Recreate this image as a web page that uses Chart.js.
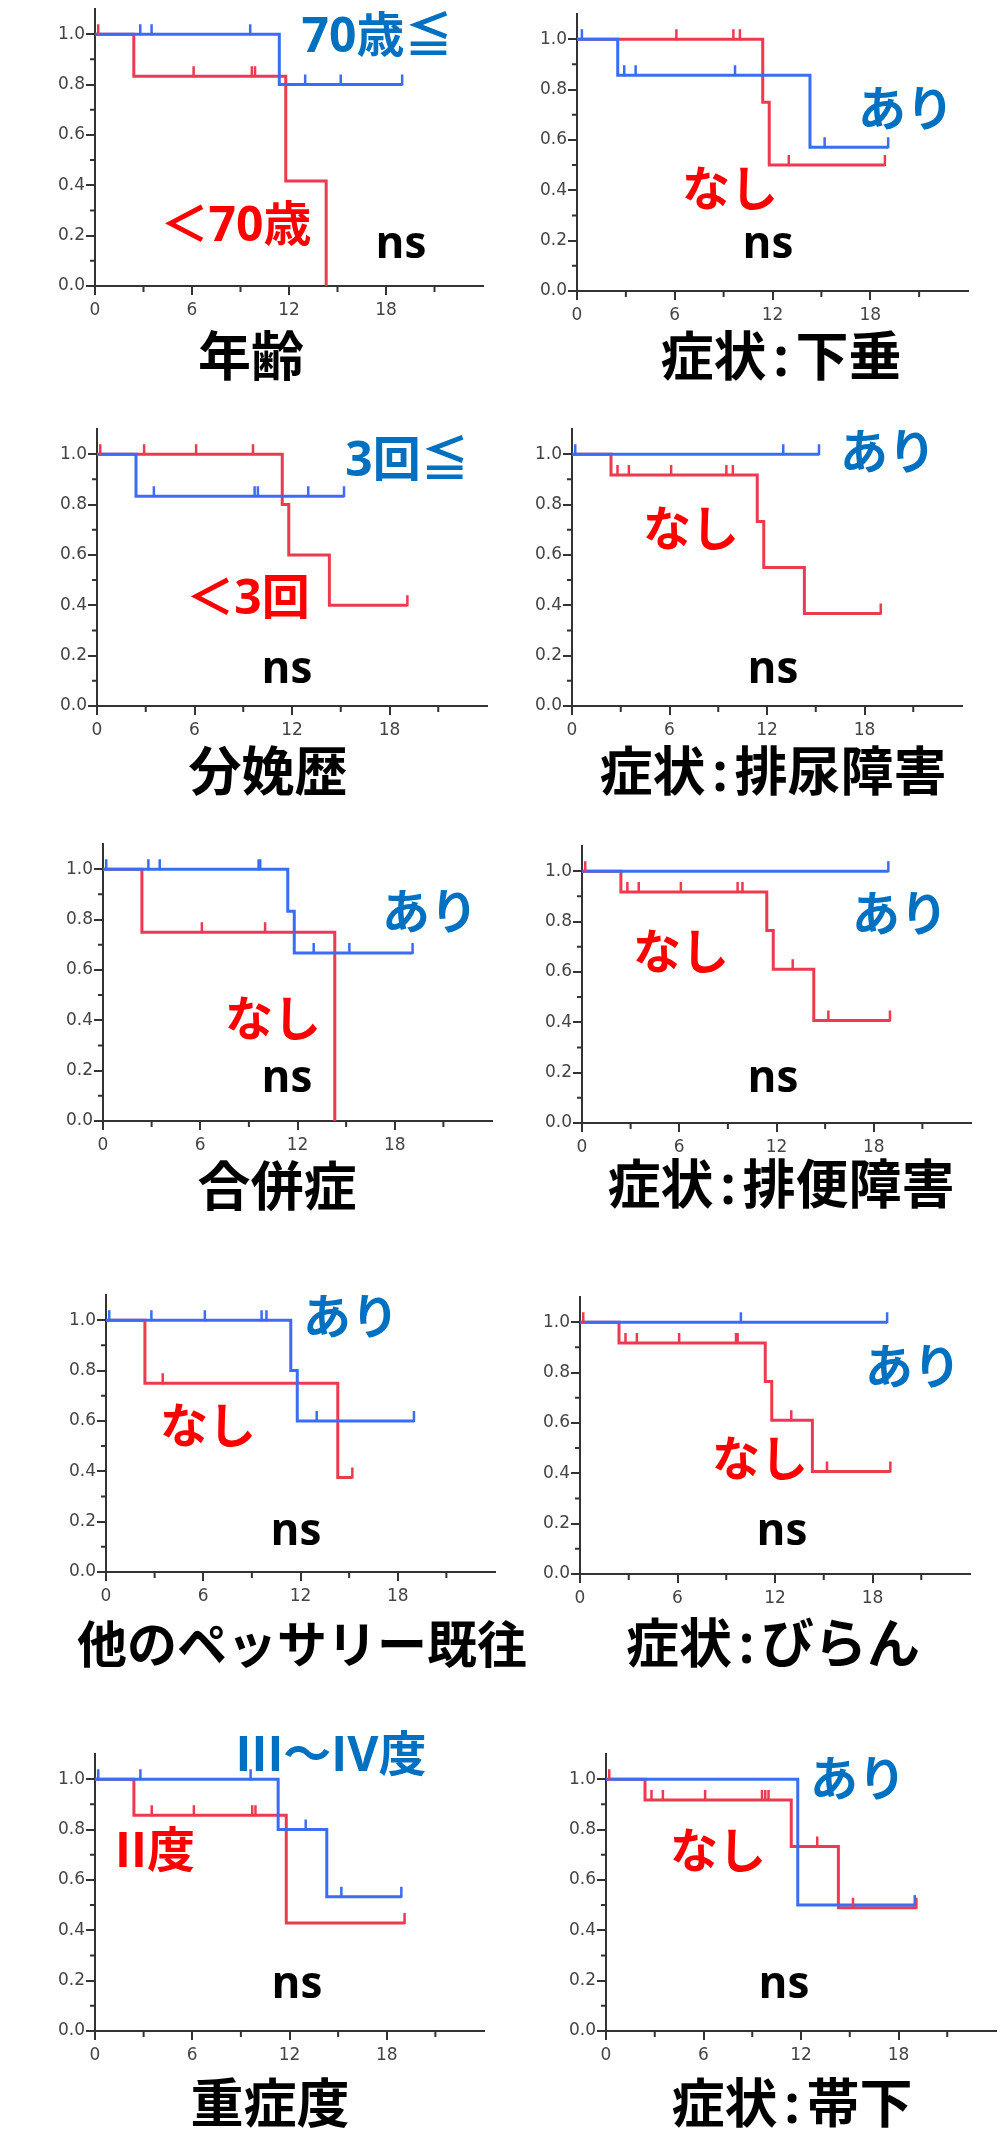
<!DOCTYPE html>
<html lang="ja">
<head>
<meta charset="utf-8">
<title>Kaplan-Meier curves by factor</title>
<script src="https://cdn.jsdelivr.net/npm/chart.js@4.4.1/dist/chart.umd.min.js"></script>
<style>
  html, body { margin: 0; padding: 0; background: #fff; }
  #page { position: relative; width: 1006px; height: 2132px; overflow: hidden; }
  #page canvas { position: absolute; }
  .txt {
    position: absolute;
    white-space: nowrap;
    font-weight: 700;
    line-height: 1;
    font-family: 'Open Sans', 'Noto Sans CJK JP', sans-serif;
    transform: translateX(-50%);
  }
  .colon { margin: 0 7px; }
</style>
</head>
<body>
<div id="page"></div>
<script>
// ────────────────────────────────────────────────
// Data (time in months, survival fraction)
// T = step times, S = survival from that time on, C = censor marks
// ────────────────────────────────────────────────
const titles = ['年齢', '症状:下垂', '分娩歴', '症状:排尿障害', '合併症',
  '症状:排便障害', '他のペッサリー既往', '症状:びらん', '重症度', '症状:帯下'];
const blueNames = ['70歳≦', 'あり', '3回≦', 'あり', 'あり', 'あり', 'あり', 'あり', 'III〜IV度', 'あり'];
const redNames = ['＜70歳', 'なし', '＜3回', 'なし', 'なし', 'なし', 'なし', 'なし', 'II度', 'なし'];
const pLabels = ['ns', 'ns', 'ns', 'ns', 'ns', 'ns', 'ns', 'ns', 'ns', 'ns'];

const xMinor = [3, 9, 15, 21];
const yMinor = [0.1, 0.3, 0.5, 0.7, 0.9];

// 年齢
const p1bT = [0, 11.4, 19.0];
const p1bS = [1, 0.8, 0.8];
const p1bC = [2.8, 3.5, 9.6, 13.0, 15.2, 19.0];
const p1rT = [0, 2.4, 11.8, 14.3];
const p1rS = [1, 0.833, 0.417, 0];
const p1rC = [0.2, 6.1, 9.7, 9.9];

// 症状:下垂
const p2bT = [0, 2.5, 14.3, 19.1];
const p2bS = [1, 0.857, 0.571, 0.571];
const p2bC = [0.3, 2.9, 3.6, 9.7, 15.2, 19.1];
const p2rT = [0, 11.4, 11.8, 18.9];
const p2rS = [1, 0.75, 0.5, 0.5];
const p2rC = [6.1, 9.6, 10.0, 13.0, 18.9];

// 分娩歴
const p3bT = [0, 2.4, 15.2];
const p3bS = [1, 0.833, 0.833];
const p3bC = [3.5, 9.7, 9.9, 13.0, 15.2];
const p3rT = [0, 11.4, 11.8, 14.3, 19.1];
const p3rS = [1, 0.8, 0.6, 0.4, 0.4];
const p3rC = [0.2, 2.9, 6.1, 9.6, 19.1];

// 症状:排尿障害
const p4bT = [0, 15.2];
const p4bS = [1, 1];
const p4bC = [0.2, 13.0, 15.2];
const p4rT = [0, 2.4, 11.4, 11.8, 14.3, 19.0];
const p4rS = [1, 0.917, 0.733, 0.55, 0.367, 0.367];
const p4rC = [2.8, 3.5, 6.1, 9.5, 9.9, 19.0];

// 合併症
const p5bT = [0, 11.4, 11.8, 19.1];
const p5bS = [1, 0.833, 0.667, 0.667];
const p5bC = [0.2, 2.8, 3.5, 9.6, 9.7, 13.0, 15.2, 19.1];
const p5rT = [0, 2.4, 14.3];
const p5rS = [1, 0.75, 0];
const p5rC = [6.1, 10.0];

// 症状:排便障害
const p6bT = [0, 18.9];
const p6bS = [1, 1];
const p6bC = [18.9];
const p6rT = [0, 2.4, 11.4, 11.8, 14.3, 19.0];
const p6rS = [1, 0.917, 0.764, 0.611, 0.407, 0.407];
const p6rC = [0.2, 2.8, 3.5, 6.1, 9.6, 9.9, 13.0, 15.2, 19.0];

// 他のペッサリー既往
const p7bT = [0, 11.4, 11.8, 19.0];
const p7bS = [1, 0.8, 0.6, 0.6];
const p7bC = [0.2, 2.8, 6.1, 9.6, 9.9, 13.0, 19.0];
const p7rT = [0, 2.4, 14.3, 15.2];
const p7rS = [1, 0.75, 0.375, 0.375];
const p7rC = [3.5, 15.2];

// 症状:びらん
const p8bT = [0, 18.9];
const p8bS = [1, 1];
const p8bC = [9.9, 18.9];
const p8rT = [0, 2.4, 11.4, 11.8, 14.3, 19.1];
const p8rS = [1, 0.917, 0.764, 0.611, 0.407, 0.407];
const p8rC = [0.2, 2.8, 3.5, 6.1, 9.6, 9.7, 13.0, 15.2, 19.1];

// 重症度
const p9bT = [0, 11.3, 14.3, 18.9];
const p9bS = [1, 0.8, 0.533, 0.533];
const p9bC = [0.2, 2.8, 9.6, 13.0, 15.2, 18.9];
const p9rT = [0, 2.4, 11.8, 19.1];
const p9rS = [1, 0.857, 0.429, 0.429];
const p9rC = [3.5, 6.1, 9.7, 9.9, 19.1];

// 症状:帯下
const p10bT = [0, 11.8, 19.0];
const p10bS = [1, 0.5, 0.5];
const p10bC = [19.0];
const p10rT = [0, 2.4, 11.4, 14.3, 19.1];
const p10rS = [1, 0.917, 0.733, 0.489, 0.489];
const p10rC = [0.2, 2.8, 3.5, 6.1, 9.6, 9.8, 10.0, 13.0, 15.2, 19.1];

const curves = [
  [p1bT, p1bS, p1bC, p1rT, p1rS, p1rC],
  [p2bT, p2bS, p2bC, p2rT, p2rS, p2rC],
  [p3bT, p3bS, p3bC, p3rT, p3rS, p3rC],
  [p4bT, p4bS, p4bC, p4rT, p4rS, p4rC],
  [p5bT, p5bS, p5bC, p5rT, p5rS, p5rC],
  [p6bT, p6bS, p6bC, p6rT, p6rS, p6rC],
  [p7bT, p7bS, p7bC, p7rT, p7rS, p7rC],
  [p8bT, p8bS, p8bC, p8rT, p8rS, p8rC],
  [p9bT, p9bS, p9bC, p9rT, p9rS, p9rC],
  [p10bT, p10bS, p10bC, p10rT, p10rS, p10rC]
];

// ────────────────────────────────────────────────
// Layout (page pixels): plot left/right/bottom, text centre x + baseline
// ────────────────────────────────────────────────
const PLOT_H = 277;
const panels = [
  { L: 95,  R: 483, B: 286,  blue: [377, 53],   red: [236, 242],  ns: [401, 258],  title: [251, 376] },
  { L: 577, R: 968, B: 291,  blue: [906, 127],  red: [730, 207],  ns: [768, 258],  title: [781, 376] },
  { L: 97,  R: 487, B: 706,  blue: [407, 477],  red: [248, 615],  ns: [287, 683],  title: [268, 791] },
  { L: 572, R: 962, B: 706,  blue: [888, 470],  red: [691, 547],  ns: [773, 683],  title: [773, 791] },
  { L: 103, R: 492, B: 1121, blue: [430, 930],  red: [273, 1037], ns: [287, 1092], title: [277, 1206] },
  { L: 582, R: 971, B: 1123, blue: [900, 932],  red: [681, 970],  ns: [773, 1092], title: [781, 1204] },
  { L: 106, R: 495, B: 1572, blue: [351, 1335], red: [208, 1444], ns: [296, 1545], title: [302, 1663], titleSize: 50 },
  { L: 580, R: 970, B: 1574, blue: [913, 1385], red: [760, 1477], ns: [782, 1545], title: [773, 1663] },
  { L: 95,  R: 484, B: 2031, blue: [331, 1772], red: [155, 1868], ns: [297, 1998], title: [270, 2123] },
  { L: 606, R: 996, B: 2031, blue: [858, 1797], red: [718, 1869], ns: [784, 1998], title: [792, 2123] }
];

const BLUE_LINE = '#3b6cf4';
const RED_LINE = '#ee3a4e';
const BLUE_TEXT = '#0070c0';
const RED_TEXT = '#ff0000';
const AXIS = '#333333';
const PAD_L = 60, PAD_T = 12, PAD_R = 14, PAD_B = 36;

// ────────────────────────────────────────────────
// Helpers
// ────────────────────────────────────────────────
function toPoints(T, S) {
  return T.map((t, i) => ({ x: t, y: S[i] }));
}

function survivalAt(T, S, t) {
  let s = S[0];
  for (let i = 0; i < T.length; i++) {
    if (T[i] <= t) s = S[i];
  }
  return s;
}

// small upward marks for censored cases
const censorMarks = {
  id: 'censorMarks',
  afterDatasetsDraw(chart) {
    const { ctx, scales: { x, y } } = chart;
    const sets = chart.data.datasets.slice().reverse();
    sets.forEach(ds => {
      ctx.save();
      ctx.strokeStyle = ds.borderColor;
      ctx.lineWidth = 2.5;
      ctx.beginPath();
      ds.censor.forEach(t => {
        const px = x.getPixelForValue(t);
        const py = y.getPixelForValue(survivalAt(ds.kmT, ds.kmS, t));
        ctx.moveTo(px, py + 1);
        ctx.lineTo(px, py - 10);
      });
      ctx.stroke();
      ctx.restore();
    });
  }
};

// short unlabelled ticks between the major ones
const minorTicks = {
  id: 'minorTicks',
  afterDraw(chart) {
    const { ctx, chartArea: a, scales: { x, y } } = chart;
    ctx.save();
    ctx.strokeStyle = AXIS;
    ctx.lineWidth = 2;
    ctx.beginPath();
    yMinor.forEach(v => {
      const py = y.getPixelForValue(v);
      ctx.moveTo(a.left - 5, py);
      ctx.lineTo(a.left, py);
    });
    xMinor.forEach(v => {
      const px = x.getPixelForValue(v);
      ctx.moveTo(px, a.bottom);
      ctx.lineTo(px, a.bottom + 6);
    });
    ctx.stroke();
    ctx.restore();
  }
};

function addText(page, html, pos, size, color) {
  const d = document.createElement('div');
  d.className = 'txt';
  d.style.left = pos[0] + 'px';
  d.style.top = (pos[1] - 0.888 * size) + 'px';
  d.style.fontSize = size + 'px';
  d.style.color = color;
  d.innerHTML = html;
  page.appendChild(d);
}

function buildPanel(page, i) {
  const p = panels[i];
  const [bT, bS, bC, rT, rS, rC] = curves[i];
  const w = p.R - p.L;

  const canvas = document.createElement('canvas');
  canvas.width = PAD_L + w + PAD_R;
  canvas.height = PAD_T + PLOT_H + PAD_B;
  canvas.style.left = (p.L - PAD_L) + 'px';
  canvas.style.top = (p.B - PLOT_H - PAD_T) + 'px';
  page.appendChild(canvas);

  new Chart(canvas, {
    type: 'line',
    data: {
      datasets: [
        {
          label: blueNames[i],
          data: toPoints(bT, bS),
          kmT: bT, kmS: bS, censor: bC,
          borderColor: BLUE_LINE,
          borderWidth: 3,
          stepped: true,
          pointRadius: 0,
          fill: false,
          order: 0
        },
        {
          label: redNames[i],
          data: toPoints(rT, rS),
          kmT: rT, kmS: rS, censor: rC,
          borderColor: RED_LINE,
          borderWidth: 3,
          stepped: true,
          pointRadius: 0,
          fill: false,
          order: 1
        }
      ]
    },
    options: {
      responsive: false,
      animation: false,
      events: [],
      layout: { padding: { left: 0, top: PAD_T, right: PAD_R, bottom: 0 } },
      plugins: { legend: { display: false }, tooltip: { enabled: false } },
      scales: {
        x: {
          type: 'linear',
          min: 0,
          max: 24,
          afterBuildTicks: s => { s.ticks = s.ticks.filter(t => t.value < 24); },
          afterFit: s => { s.height = PAD_B; },
          ticks: {
            stepSize: 6,
            padding: 5,
            color: '#444',
            font: { family: 'DejaVu Sans', size: 17 },
            maxRotation: 0
          },
          grid: { drawOnChartArea: false, color: AXIS, lineWidth: 2, tickLength: 9 },
          border: { color: AXIS, width: 2 }
        },
        y: {
          type: 'linear',
          min: 0,
          max: 1.1,
          afterFit: s => { s.width = PAD_L; },
          ticks: {
            stepSize: 0.2,
            includeBounds: false,
            padding: 1,
            color: '#444',
            font: { family: 'DejaVu Sans', size: 17 },
            callback: v => Number(v).toFixed(1)
          },
          grid: { drawOnChartArea: false, color: AXIS, lineWidth: 2, tickLength: 9 },
          border: { color: AXIS, width: 2 }
        }
      }
    },
    plugins: [censorMarks, minorTicks]
  });

  addText(page, blueNames[i], p.blue, 48, BLUE_TEXT);
  addText(page, redNames[i], p.red, 48, RED_TEXT);
  addText(page, pLabels[i], p.ns, 44, '#000');
  const titleHtml = titles[i].replace(':', '<span class="colon">:</span>');
  addText(page, titleHtml, p.title, p.titleSize || 53, '#000');
}

// ────────────────────────────────────────────────
// Initialization
// ────────────────────────────────────────────────
const page = document.getElementById('page');
for (let i = 0; i < panels.length; i++) {
  buildPanel(page, i);
}
</script>
</body>
</html>
